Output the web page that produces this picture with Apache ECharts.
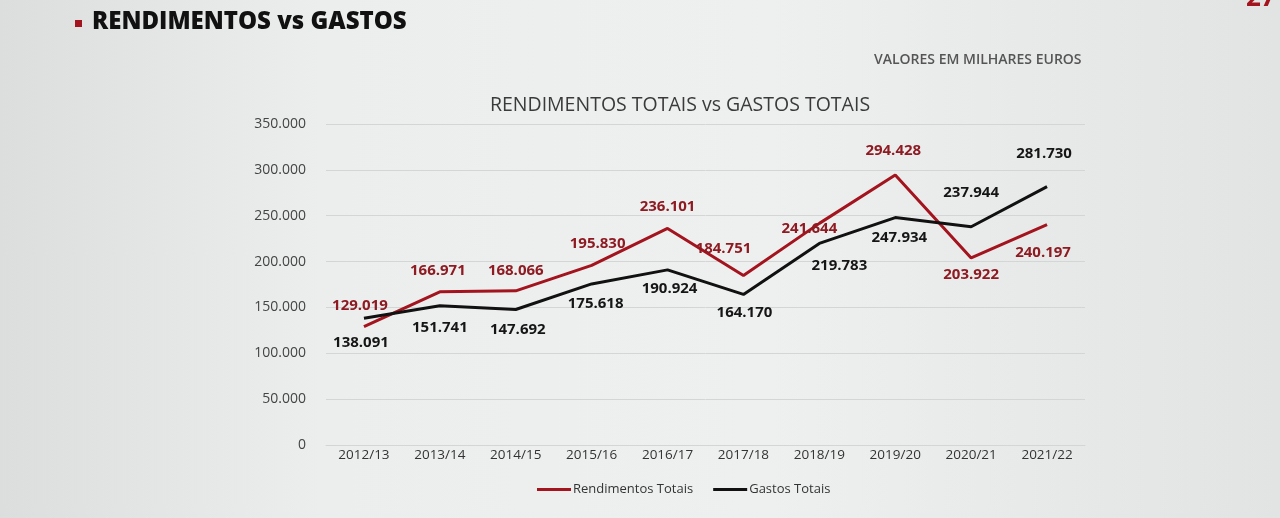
<!DOCTYPE html>
<html>
<head>
<meta charset="utf-8">
<script src="https://cdn.jsdelivr.net/npm/echarts@6/dist/echarts.min.js"></script>
<style>
html,body{margin:0;padding:0;}
#chart{width:1280px;height:518px;background:linear-gradient(90deg,#dcdedd 0%,#eceeed 25%,#eef0ef 60%,#e2e4e3 100%);}
</style>
</head>
<body>
<div id="chart"></div>
<script>
// anos lectivos
var anos = ['2012/13','2013/14','2014/15','2015/16','2016/17','2017/18','2018/19','2019/20','2020/21','2021/22'];
// valores em milhares de euros
var rendimentos = [129019,166971,168066,195830,236101,184751,241644,294428,203922,240197];
var gastos = [138091,151741,147692,175618,190924,164170,219783,247934,237944,281730];

// onde fica cada etiqueta
var posRend = ['top','top','top','top','top','top','top','top','bottom','bottom'];
var offRend = [[-4,-8],[-2,-9],[0,-8],[6,-9],[0,-9],[-20,-14],[-10,18],[-2,-12],[0,4],[-4,16]];
var posGast = ['bottom','bottom','bottom','bottom','bottom','bottom','bottom','bottom','top','top'];
var offGast = [[-3,12],[0,9],[2,8],[4,7],[2,6],[1,6],[20,10],[4,8],[0,-22],[-3,-20]];

function fmt(v){
    return v.toString().replace(/\B(?=(\d{3})+(?!\d))/g,'.');
}

function buildData(vals, pos, off){
    var out = [];
    for(var i=0;i<vals.length;i++){
        out.push({value:vals[i], label:{position:pos[i], offset:off[i]}});
    }
    return out;
}

var chart = echarts.init(document.getElementById('chart'));
var option = {
    textStyle:{fontFamily:'Open Sans'},
    title:{
        text:'RENDIMENTOS TOTAIS vs GASTOS TOTAIS',
        left:675, top:90, textAlign:'center',
        textStyle:{color:'#3a3a3a',fontSize:19.5,fontWeight:'normal',fontFamily:'Open Sans'}
    },
    graphic:[
        {type:'rect',shape:{x:75,y:20,width:7,height:7},style:{fill:'#a3141e'}},
        {type:'text',left:92,top:10,style:{text:'RENDIMENTOS vs GASTOS',fill:'#111',font:'800 24px "Open Sans"'}},
        {type:'text',left:874,top:53,style:{text:'VALORES EM MILHARES EUROS',fill:'#555',font:'600 14px "Open Sans"'}},
        {type:'text',left:1246,top:-14,style:{text:'27',fill:'#a3141e',font:'bold 26px "Open Sans"'}}
    ],
    legend:{
        bottom:17, left:532, itemWidth:34, itemHeight:3, itemGap:20,
        icon:'rect',
        textStyle:{color:'#333',fontSize:13,fontFamily:'Open Sans',padding:[0,0,0,-3]},
        data:['Rendimentos Totais','Gastos Totais']
    },
    grid:{left:326,right:195,top:124,bottom:73},
    xAxis:{
        type:'category', data:anos, boundaryGap:true,
        axisLine:{show:true,lineStyle:{color:'#d4d6d6'}},
        axisTick:{show:false},
        axisLabel:{color:'#333',fontSize:13.5,margin:3}
    },
    yAxis:{
        type:'value', min:0, max:350000, interval:50000,
        axisLine:{show:false}, axisTick:{show:false},
        splitLine:{lineStyle:{color:'#d4d6d6'}},
        axisLabel:{color:'#444',fontSize:14,margin:20,formatter:function(v){return fmt(v);}}
    },
    series:[
        {
            name:'Rendimentos Totais', type:'line', data:buildData(rendimentos,posRend,offRend),
            symbol:'circle', symbolSize:0, lineStyle:{color:'#a3141e',width:3}, itemStyle:{color:'#a3141e'},
            label:{show:true,color:'#8e1a22',fontSize:15,fontWeight:'bold',formatter:function(p){return fmt(p.value);}}
        },
        {
            name:'Gastos Totais', type:'line', data:buildData(gastos,posGast,offGast),
            symbol:'circle', symbolSize:0, lineStyle:{color:'#111',width:3}, itemStyle:{color:'#111'},
            label:{show:true,color:'#151515',fontSize:15,fontWeight:'bold',formatter:function(p){return fmt(p.value);}}
        }
    ]
};
chart.setOption(option);
</script>
</body>
</html>
